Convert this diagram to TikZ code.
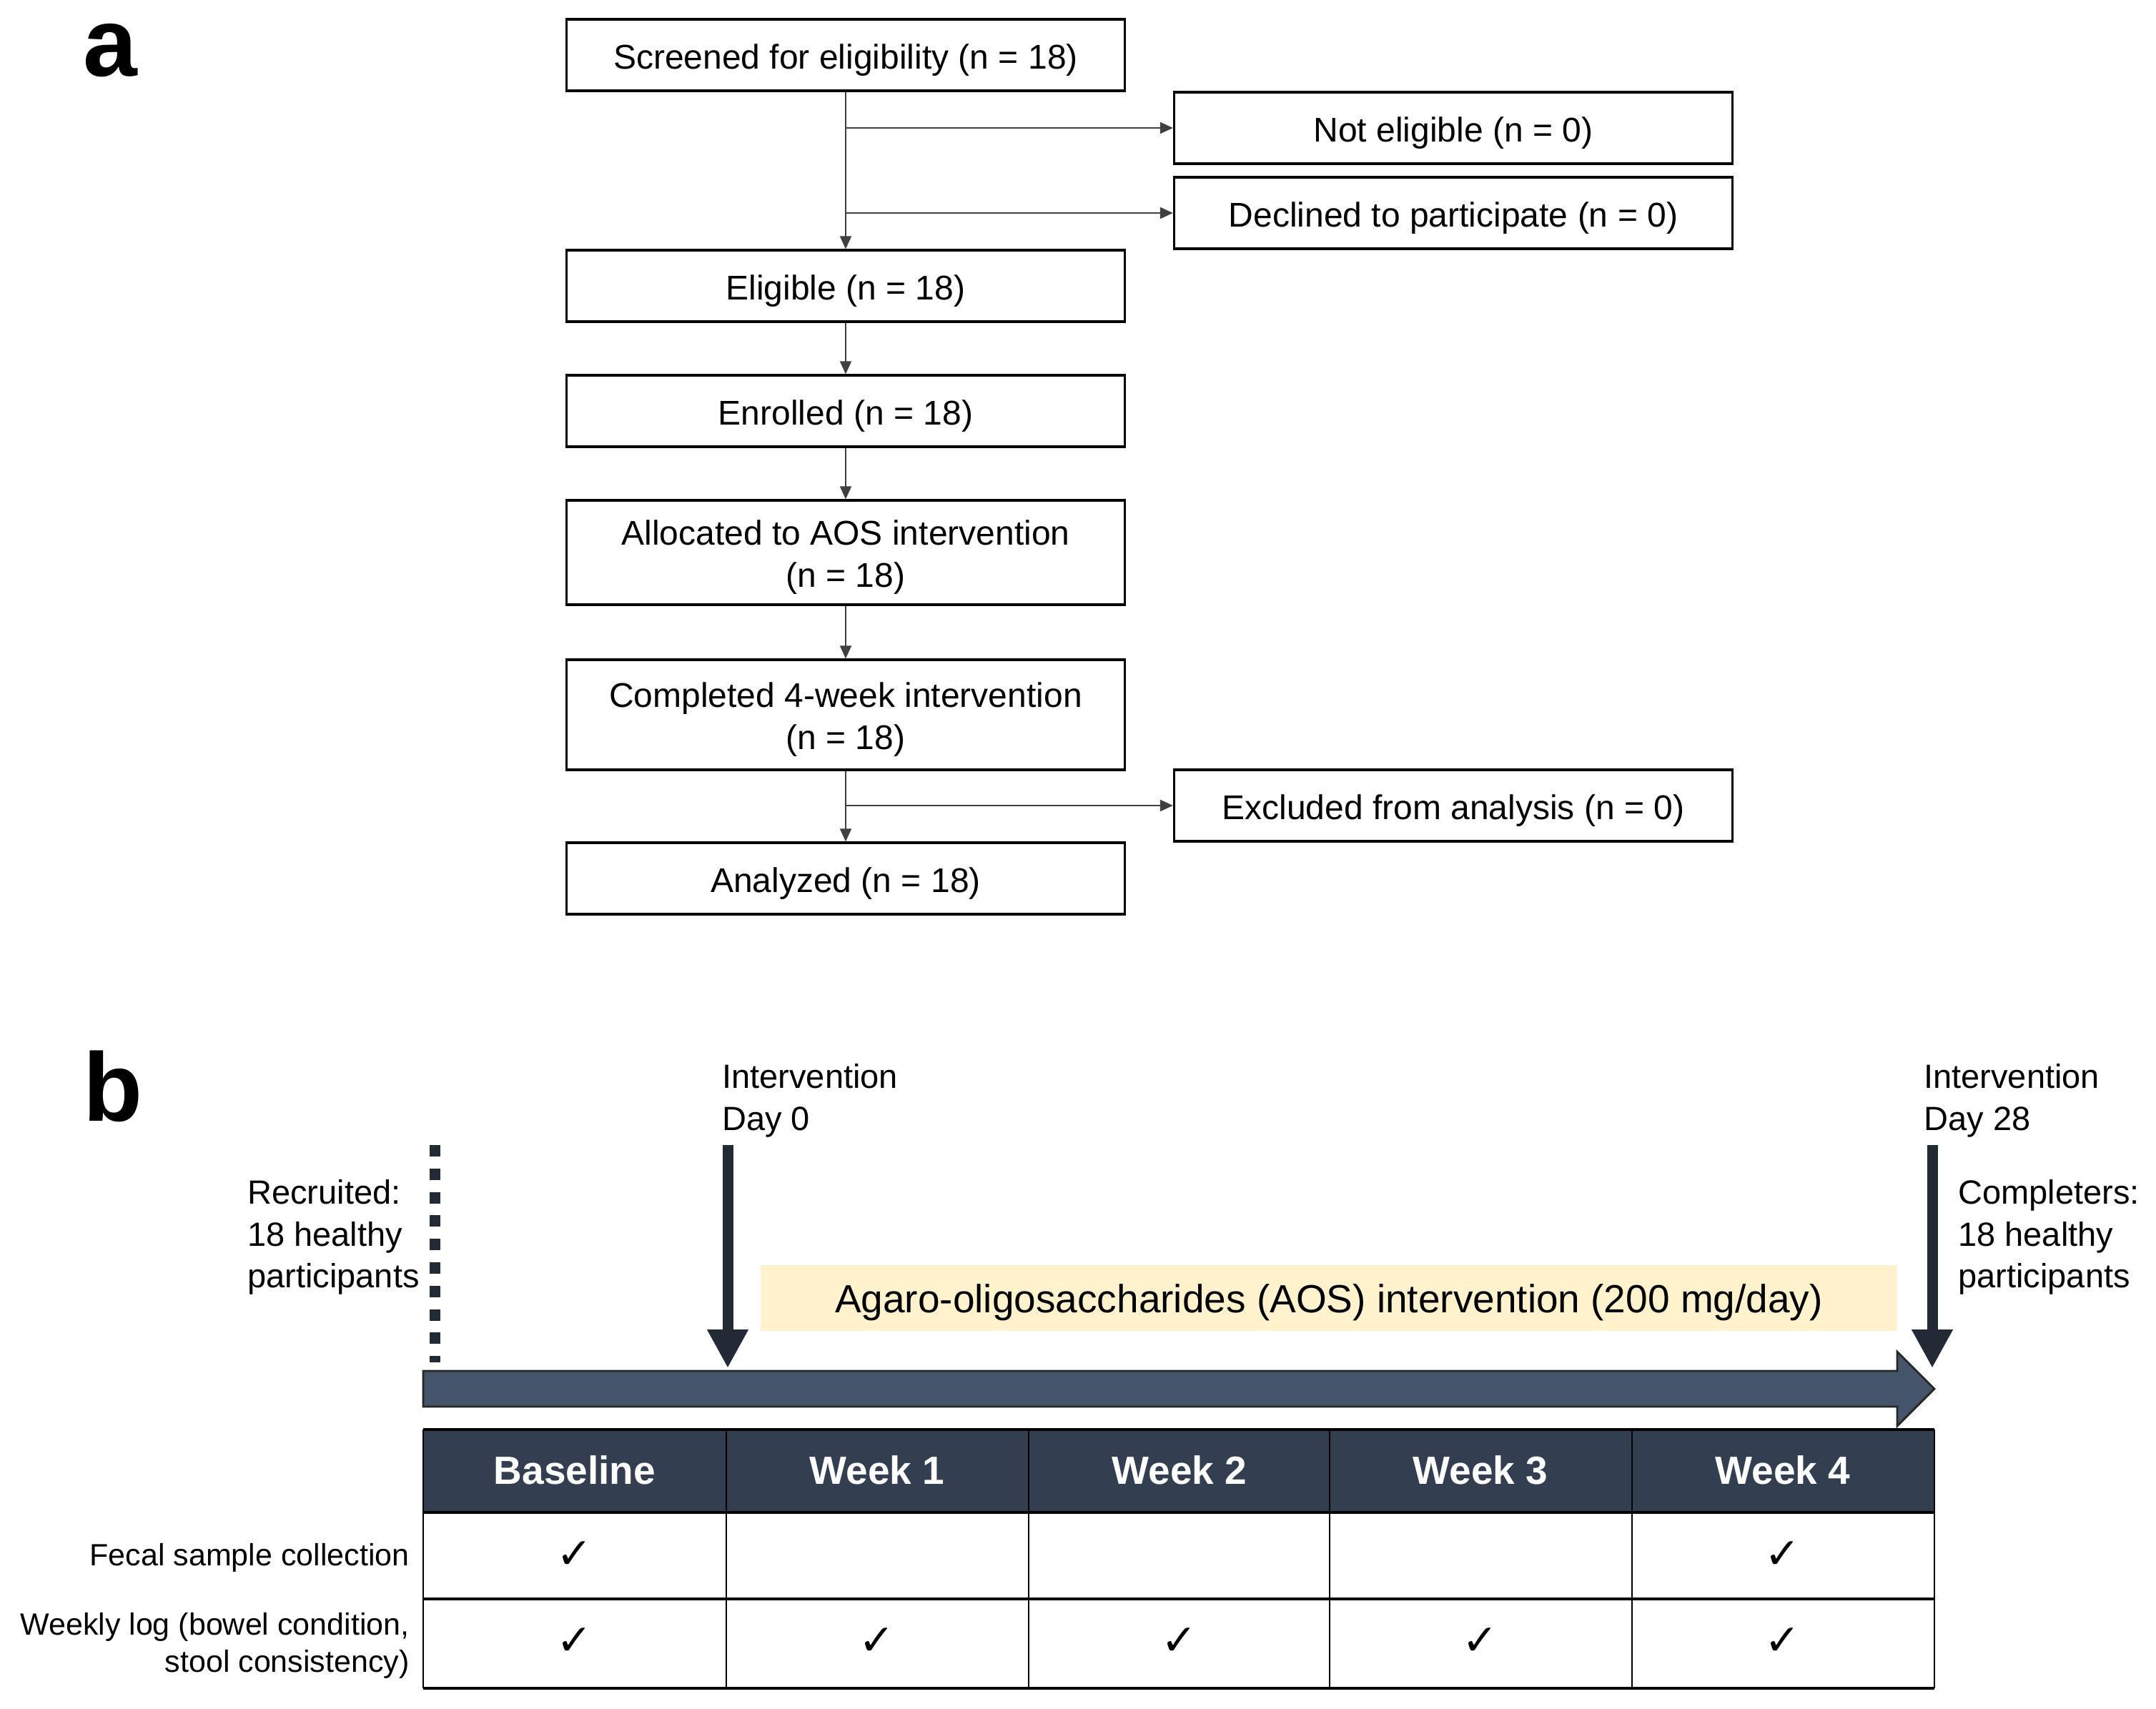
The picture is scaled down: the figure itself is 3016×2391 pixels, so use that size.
\documentclass[tikz,border=0pt]{standalone}
\usepackage{fontspec}
\setmainfont{Liberation Sans}
\newfontfamily\symfont{DejaVu Sans}
\usetikzlibrary{arrows.meta}
\definecolor{hdr}{HTML}{333F50}
\definecolor{tline}{HTML}{44546A}
\definecolor{darr}{HTML}{222A35}
\definecolor{ylw}{HTML}{FFF2CC}
\begin{document}
\begin{tikzpicture}[x=0.5pt,y=-0.5pt,
  fbox/.style={draw=black,line width=1.6pt,minimum width=390.5pt,minimum height=50pt,inner sep=0pt},
  ftxt/.style={inner sep=0pt,align=center,yshift=-3.3pt,font=\fontsize{24}{29.5}\selectfont},
  conn/.style={line width=0.9pt,draw=black!75,-{Triangle[length=9pt,width=8pt]}},
  plabel/.style={font=\bfseries\fontsize{68}{68}\selectfont,inner sep=0pt},
  btxt/.style={font=\fontsize{23.5}{29.3}\selectfont,inner sep=0pt},
  darrow/.style={draw=darr,line width=7.5pt,-{Triangle[length=27pt,width=27pt]}},
  hdrtxt/.style={font=\bfseries\fontsize{27.5}{30}\selectfont,text=white,inner sep=0pt},
  rowlbl/.style={font=\fontsize{21.5}{26}\selectfont,inner sep=0pt,anchor=east,align=right},
  chk/.style={font=\symfont\fontsize{30}{30}\selectfont,inner sep=0pt},
  hline/.style={line width=1.8pt,draw=black},
  vline/.style={line width=1.3pt,draw=black}]
\useasboundingbox (0,0) rectangle (3016,2391);

% ---------- panel a ----------
\node[plabel] (la) at (154,71) {a};
\node[fbox,label={[ftxt]center:Screened for eligibility (n = 18)}] (scr) at (1183,77) {};
\node[fbox,label={[ftxt]center:Not eligible (n = 0)}] (ne) at (2033,179) {};
\node[fbox,label={[ftxt]center:Declined to participate (n = 0)}] (dec) at (2033,298) {};
\node[fbox,label={[ftxt]center:Eligible (n = 18)}] (elig) at (1183,400) {};
\node[fbox,label={[ftxt]center:Enrolled (n = 18)}] (enr) at (1183,575) {};
\node[fbox,minimum height=73pt,label={[ftxt]center:Allocated to AOS intervention\\(n = 18)}] (alloc) at (1183,773) {};
\node[fbox,minimum height=77pt,label={[ftxt]center:Completed 4-week intervention\\(n = 18)}] (comp) at (1183,1000) {};
\node[fbox,label={[ftxt]center:Excluded from analysis (n = 0)}] (exc) at (2033,1127) {};
\node[fbox,label={[ftxt]center:Analyzed (n = 18)}] (ana) at (1183,1229) {};

\draw[conn] (scr.south) -- (elig.north);
\draw[conn] (scr.south |- ne.west) -- (ne.west);
\draw[conn] (scr.south |- dec.west) -- (dec.west);
\draw[conn] (elig.south) -- (enr.north);
\draw[conn] (enr.south) -- (alloc.north);
\draw[conn] (alloc.south) -- (comp.north);
\draw[conn] (comp.south) -- (ana.north);
\draw[conn] (comp.south |- exc.west) -- (exc.west);

% ---------- panel b ----------
\node[plabel] (lb) at (158,1520) {b};

\node[btxt,anchor=east,align=left] (recr) at (587,1731) {Recruited:\\18 healthy\\participants};
\coordinate (dtop) at (608,1602);
\coordinate (dbot) at (608,1906);
\draw[draw=darr,line width=7.5pt,dash pattern=on 8pt off 8.4pt] (dtop) -- (dbot);

\node[btxt,anchor=west,align=left] (d0) at (1010,1540) {Intervention\\Day 0};
\coordinate (d0a) at (1018,1602);
\coordinate (d0b) at (1018,1914);
\draw[darrow] (d0a) -- (d0b);

\node[btxt,anchor=west,align=left] (d28) at (2691,1540) {Intervention\\Day 28};
\coordinate (d28a) at (2703,1602);
\coordinate (d28b) at (2703,1914);
\draw[darrow] (d28a) -- (d28b);

\node[btxt,anchor=west,align=left] (cmpl) at (2739,1731) {Completers:\\18 healthy\\participants};

\fill[ylw] (1064,1770) rectangle (2654,1862);
\node[font=\fontsize{27.5}{30}\selectfont,inner sep=0pt] (aos) at (1859,1822) {Agaro-oligosaccharides (AOS) intervention (200 mg/day)};

\draw[fill=tline,draw=black!85,line width=1.4pt,line join=miter]
  (592,1918) -- (2654,1918) -- (2654,1891) -- (2706,1943) -- (2654,1995)
  -- (2654,1968) -- (592,1968) -- cycle;

% table
\fill[hdr] (592,2000) rectangle (2706,2116);
\foreach \x in {1016,1439,1860,2283}{\draw[vline] (\x,2000) -- (\x,2362);}
\draw[vline] (592,2000) -- (592,2362);
\draw[vline] (2706,2000) -- (2706,2362);
\foreach \y in {2000,2116,2237,2362}{\draw[hline] (592,\y) -- (2706,\y);}

\node[hdrtxt] (h1) at (804,2057) {Baseline};
\node[hdrtxt] (h2) at (1227,2057) {Week 1};
\node[hdrtxt] (h3) at (1650,2057) {Week 2};
\node[hdrtxt] (h4) at (2071,2057) {Week 3};
\node[hdrtxt] (h5) at (2494,2057) {Week 4};

\node[rowlbl] (r1) at (573,2179) {Fecal sample collection};
\node[rowlbl] (r2) at (573,2302) {Weekly log (bowel condition,\\stool consistency)};

\node[chk] (c11) at (804,2176) {✓};
\node[chk] (c15) at (2494,2176) {✓};
\node[chk] (c21) at (804,2297) {✓};
\node[chk] (c22) at (1227,2297) {✓};
\node[chk] (c23) at (1650,2297) {✓};
\node[chk] (c24) at (2071,2297) {✓};
\node[chk] (c25) at (2494,2297) {✓};
\end{tikzpicture}
\end{document}
